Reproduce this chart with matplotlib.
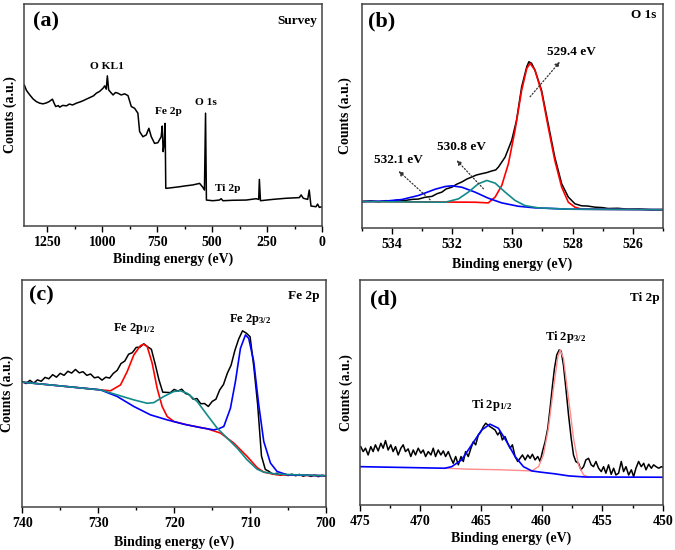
import numpy as np
import matplotlib
matplotlib.use('Agg')
import matplotlib.pyplot as plt
from matplotlib.ticker import MultipleLocator

plt.rcParams['font.family'] = 'Liberation Serif'
plt.rcParams['font.weight'] = 'bold'
plt.rcParams['mathtext.fontset'] = 'custom'
plt.rcParams['mathtext.rm'] = 'Liberation Serif:bold'
plt.rcParams['mathtext.it'] = 'Liberation Serif:bold'
plt.rcParams['mathtext.bf'] = 'Liberation Serif:bold'

# ---- (a) survey ----
survey_e = [1355, 1345, 1330, 1315, 1300, 1285, 1270, 1255, 1242, 1227, 1218, 1212, 1200, 1194, 1180,
            1163, 1150, 1135, 1118, 1100, 1085, 1073, 1055, 1040, 1027, 1012, 997, 989, 982, 977,
            971, 962, 951, 940, 929, 914, 898, 883, 868, 853, 838, 830, 815, 800, 788, 777,
            762, 747, 732, 727, 723, 718, 714, 711, 706, 680, 648, 620, 588, 557, 542, 535,
            530, 526, 497, 467, 459, 451, 406, 345, 300, 288, 285, 280, 224, 164, 103, 95,
            85, 65, 58, 50, 27, 20, 12, 0]
survey_c = [63.5, 61.0, 59.0, 57.2, 56.0, 55.3, 55.0, 55.4, 56.0, 57.1, 55.0, 53.8, 54.2, 53.5, 54.3,
            54.1, 54.9, 54.5, 55.3, 55.9, 56.5, 57.1, 57.9, 58.6, 59.8, 60.6, 62.0, 63.1, 61.6, 67.6,
            61.3, 60.2, 59.0, 60.1, 59.8, 59.0, 59.5, 58.7, 53.8, 53.0, 50.8, 42.5, 40.2, 41.0, 44.0, 40.2,
            37.2, 37.5, 40.2, 45.0, 33.5, 37.2, 46.2, 17.0, 17.0, 17.3, 17.7, 18.1, 18.5, 19.2, 17.4, 16.2,
            50.8, 11.7, 11.4, 11.7, 12.3, 11.4, 11.6, 11.7, 12.3, 12.0, 21.0, 11.4, 12.0, 12.5, 12.8, 14.0,
            12.5, 12.0, 16.2, 9.0, 8.7, 9.9, 8.4, 8.7]
survey_peaks = ['O KL1', 'Fe 2p', 'O 1s', 'Ti 2p']
survey_peak_pos = [(977, 72), (700, 51.4), (527, 55.4), (427, 17.1)]

# ---- (b) O 1s ----
o1s_e = [535.0, 534.7, 534.44, 534.2, 534.0, 533.8, 533.56, 533.3, 533.12, 532.9, 532.67, 532.5, 532.34,
         532.2, 532.01, 531.85, 531.68, 531.5, 531.35, 531.2, 531.02, 530.85, 530.69, 530.55, 530.46,
         530.24, 530.02, 529.86, 529.69, 529.52, 529.45, 529.36, 529.25, 529.03, 528.81, 528.59,
         528.36, 528.14, 527.92, 527.7, 527.5, 527.26, 527.0, 526.82, 526.5, 526.15, 525.8, 525.4, 525.0]
o1s_c = [11.9, 12.2, 11.8, 12.3, 12.1, 12.6, 12.4, 12.9, 13.0, 13.8, 14.2, 15.4, 16.1,
         17.5, 18.3, 19.6, 20.6, 22.0, 22.8, 23.7, 24.3, 24.8, 25.5, 26.0, 27.3,
         31.7, 39.2, 48.1, 63.0, 72.0, 74.2, 73.5, 70.5, 61.5, 46.6, 31.7,
         19.8, 13.9, 10.9, 10.0, 9.9, 9.4, 9.2, 8.8, 8.9, 8.5, 8.6, 8.2, 8.3]
o1s_red_e = [535.0, 531.24, 530.8, 530.57, 530.35, 530.13, 529.91, 529.69, 529.52, 529.41, 529.25,
             529.03, 528.81, 528.59, 528.36, 528.14, 527.92, 527.7, 525.0]
o1s_red_c = [11.9, 11.6, 11.3, 13.9, 19.1, 28.8, 43.7, 61.5, 71.2, 73.5, 70.5,
             60.8, 45.2, 30.3, 18.3, 11.6, 9.4, 8.5, 8.3]
o1s_teal_e = [535.0, 532.23, 531.79, 531.46, 531.13, 530.85, 530.57, 530.24, 529.91, 529.58, 529.14,
              528.14, 525.0]
o1s_teal_c = [11.9, 11.6, 13.1, 16.1, 19.8, 21.3, 20.1, 16.1, 12.4, 10.1, 9.1, 8.5, 8.3]
o1s_blue_e = [535.0, 534.22, 533.67, 533.12, 532.56, 532.23, 532.01, 531.68, 531.24, 530.8, 530.35,
              529.8, 529.25, 528.14, 525.0]
o1s_blue_c = [11.9, 12.1, 12.8, 14.6, 17.4, 18.6, 18.9, 18.3, 16.1, 13.4, 11.3, 9.8, 9.1, 8.5, 8.3]
o1s_labels = ['529.4 eV', '530.8 eV', '532.1 eV']

# ---- (c) Fe 2p ----
fe_e = np.arange(740, 699.75, -0.5)
fe_c = [55.3, 54.4, 55.8, 54.6, 56.0, 55.4, 57.1, 56.5, 58.3, 57.2,
        58.9, 58.0, 59.8, 59.0, 60.6, 59.1, 59.6, 58.0, 58.6, 56.9,
        57.3, 55.9, 57.2, 56.8, 58.9, 60.2, 63.2, 64.3, 67.3, 68.0,
        70.3, 70.4, 71.9, 70.6, 69.5, 63.0, 56.0, 50.6, 50.5, 50.4,
        51.8, 51.1, 51.9, 50.0, 49.5, 47.5, 47.8, 45.5, 45.6, 44.3,
        46.5, 47.5, 51.6, 54.0, 58.9, 62.5, 69.0, 74.0, 77.6, 76.6,
        75.0, 61.5, 45.0, 22.5, 16.6, 15.7, 14.4, 14.9, 14.0, 14.7,
        13.9, 14.5, 13.8, 14.4, 13.6, 14.2, 13.5, 14.1, 13.4, 14.0,
        13.6]
fe_red_e = [740, 729.69, 728.38, 727.06, 726.18, 725.31, 724.43, 723.99, 723.55, 722.89, 722.24,
            721.58, 720.92, 720.04, 718.29, 715.66, 713.9, 712.15, 710.39, 709.08, 708.2, 706.45, 700]
fe_red_c = [55.0, 51.6, 51.2, 53.8, 59.7, 67.0, 71.1, 71.7, 70.7, 63.3, 52.3,
            44.3, 39.9, 37.7, 36.2, 34.5, 32.6, 28.2, 22.3, 17.4, 15.4, 14.2, 13.8]
fe_blue_e = [740, 729.69, 727.5, 725.31, 723.11, 720.92, 718.73, 716.54, 714.78, 714.12, 713.46,
             712.59, 711.93, 711.27, 710.61, 710.18, 709.52, 708.86, 708.2, 707.32, 706.45, 705.13, 700]
fe_blue_c = [55.0, 51.6, 48.7, 44.3, 40.6, 38.4, 36.5, 35.0, 34.0, 34.5, 35.5,
             43.5, 55.3, 69.9, 75.8, 74.3, 64.1, 45.0, 28.9, 19.4, 15.7, 14.2, 13.8]
fe_teal_e = [740, 729.69, 727.5, 725.31, 723.55, 722.68, 721.36, 720.04, 719.17, 718.29, 716.97,
             715.66, 714.34, 713.03, 711.71, 710.39, 709.08, 708.2, 706.45, 700]
fe_teal_c = [55.0, 51.6, 49.4, 47.2, 45.7, 46.0, 48.7, 50.9, 51.2, 50.1, 46.5,
             40.6, 34.8, 30.4, 26.0, 20.8, 16.7, 15.4, 14.5, 13.8]

# ---- (d) Ti 2p ----
ti_e = [474.92, 474.72, 474.53, 474.31, 474.09, 473.90, 473.71, 473.48, 473.26, 473.07, 472.88,
        472.66, 472.44, 472.25, 472.05, 471.83, 471.61, 471.42, 471.23, 471.01, 470.79, 470.59,
        470.40, 470.18, 469.96, 469.77, 469.57, 469.35, 469.13, 468.94, 468.75, 468.53, 468.31,
        468.11, 467.92, 467.70, 467.48, 467.29, 467.09, 466.87, 466.65, 466.46, 466.27, 466.05,
        465.83, 465.63, 465.44, 465.22, 465.00, 464.81, 464.61, 464.45, 464.26, 464.06, 463.84,
        463.62, 463.43, 463.24, 463.02, 462.80, 462.60, 462.41, 462.19, 461.97, 461.78, 461.58,
        461.36, 461.14, 460.95, 460.76, 460.54, 460.32, 460.12, 459.93, 459.71, 459.49, 459.30,
        459.10, 458.94, 458.75, 458.55, 458.39, 458.20, 458.00, 457.78, 457.56, 457.37, 457.18,
        456.96, 456.76, 456.54, 456.35, 456.13, 455.91, 455.72, 455.52, 455.30, 455.08, 454.89,
        454.70, 454.48, 454.26, 454.06, 453.87, 453.65, 453.43, 453.24, 453.04, 452.82, 452.60,
        452.41, 452.22, 452.00, 451.78, 451.58, 451.39, 451.17, 450.95, 450.76, 450.56, 450.34,
        450.12, 450.0]
ti_c = [25.9, 23.7, 25.2, 22.2, 25.9, 23.7, 26.7, 24.0, 27.4, 25.2, 28.6,
        24.4, 26.7, 23.7, 25.9, 22.2, 25.2, 26.7, 23.7, 24.9, 21.5, 24.4,
        22.2, 25.2, 23.0, 24.4, 21.5, 23.7, 22.2, 25.2, 21.5, 24.4, 22.2,
        24.0, 21.5, 23.7, 20.7, 18.5, 21.5, 17.8, 21.5, 19.3, 23.7, 21.5,
        25.2, 28.1, 26.7, 31.1, 32.6, 34.8, 36.3, 35.6, 34.8, 34.1, 33.3,
        31.1, 32.6, 28.9, 30.4, 27.4, 25.2, 26.7, 21.5, 19.3, 20.7, 22.2,
        20.0, 22.2, 20.7, 22.5, 20.0, 21.5, 19.3, 23.7, 28.1, 34.1, 43.0,
        53.3, 60.7, 66.7, 68.9, 68.4, 62.2, 51.9, 40.0, 29.6, 22.2, 19.3,
        18.5, 15.6, 17.0, 20.0, 20.7, 17.8, 17.0, 19.3, 16.3, 14.8, 17.0,
        14.1, 17.8, 13.6, 16.3, 13.3, 14.1, 19.3, 14.8, 17.0, 13.3, 15.6,
        12.6, 16.3, 19.3, 17.0, 18.5, 15.6, 18.1, 16.3, 17.8, 17.0, 16.3,
        17.0, 16.7]
ti_blue_e = [475, 467.98, 467.42, 466.6, 465.77, 464.94, 464.26, 463.57, 462.88, 462.19, 461.5,
             460.81, 459.99, 458.88, 457.78, 456.4, 450]
ti_blue_c = [17.0, 16.3, 17.0, 20.0, 26.7, 33.3, 35.9, 34.1, 28.1, 21.5, 17.0,
             15.1, 14.5, 13.8, 12.9, 12.4, 12.3]
ti_pink_e = [467.98, 466.05, 463.29, 460.81, 460.26, 459.85, 459.44, 459.02, 458.66, 458.47, 458.2,
             457.78, 457.37, 456.96, 456.54, 456.13]
ti_pink_c = [16.3, 15.9, 15.6, 15.1, 17.0, 22.2, 34.1, 51.9, 65.9, 68.9, 65.2,
             47.4, 29.6, 17.8, 13.3, 12.4]

RED = '#ff0000'
BLUE = '#0000ff'
TEAL = '#138a8a'
PINK = '#ff8c8c'

fig = plt.figure(figsize=(6.75, 5.5), dpi=100)
ax_a = fig.add_axes([0.036, 0.589, 0.441, 0.404])
ax_b = fig.add_axes([0.536, 0.585, 0.446, 0.408])
ax_c = fig.add_axes([0.033, 0.078, 0.450, 0.413])
ax_d = fig.add_axes([0.533, 0.082, 0.449, 0.409])


def style(ax, xlim, major, minor, ylab_x, xlab_y):
    ax.set_xlim(*xlim)
    ax.set_ylim(0, 100)
    ax.set_yticks([])
    ax.xaxis.set_major_locator(MultipleLocator(major))
    ax.xaxis.set_minor_locator(MultipleLocator(minor))
    ax.tick_params(axis='x', which='major', direction='out', length=4, width=1, labelsize=10, pad=3)
    ax.tick_params(axis='x', which='minor', direction='out', length=2.5, width=1)
    for lbl in ax.get_xticklabels():
        lbl.set_fontweight('bold')
    for s in ax.spines.values():
        s.set_color('#444444')
        s.set_linewidth(1.1)
    ax.set_xlabel('Binding energy (eV)', fontsize=10, fontweight='bold')
    ax.set_ylabel('Counts (a.u.)', fontsize=10, fontweight='bold')
    ax.yaxis.set_label_coords(ylab_x, 0.5)
    ax.xaxis.set_label_coords(0.5, xlab_y)


# (a)
ax_a.plot(survey_e, survey_c, color='black', lw=1.1)
style(ax_a, (1355, 0), 250, 125, -0.023, -0.117)
ax_a.text(0.03, 0.92, '(a)', transform=ax_a.transAxes, fontsize=16, fontweight='bold', va='center')
ax_a.text(0.985, 0.923, 'Survey', transform=ax_a.transAxes, fontsize=9.5, fontweight='bold',
          ha='right', va='center')
for name, (x, y) in zip(survey_peaks, survey_peak_pos):
    ax_a.text(x, y, name, fontsize=8.2, fontweight='bold', ha='center', va='center')

# (b)
ax_b.plot(o1s_e, o1s_c, color='black', lw=1.1)
ax_b.plot(o1s_red_e, o1s_red_c, color=RED, lw=1.2)
ax_b.plot(o1s_blue_e, o1s_blue_c, color=BLUE, lw=1.2)
ax_b.plot(o1s_teal_e, o1s_teal_c, color=TEAL, lw=1.2)
style(ax_b, (535, 525), 2, 1, -0.033, -0.129)
ax_b.text(0.02, 0.92, '(b)', transform=ax_b.transAxes, fontsize=16, fontweight='bold', va='center')
ax_b.text(0.98, 0.95, 'O 1s', transform=ax_b.transAxes, fontsize=9.5, fontweight='bold',
          ha='right', va='center')
arrows_b = [((529.41, 58.6), (528.42, 74.2), (528.03, 78.7)),
            ((530.96, 17.6), (531.85, 30.3), (531.7, 36.2)),
            ((532.73, 12.7), (533.78, 25.5), (533.78, 30.5))]
for lab, (tail, head, txt) in zip(o1s_labels, arrows_b):
    ax_b.annotate('', xy=head, xytext=tail,
                  arrowprops=dict(arrowstyle='-|>', linestyle=':', lw=0.9, color='#333333',
                                  mutation_scale=7, shrinkA=0, shrinkB=0))
    ax_b.text(txt[0], txt[1], lab, fontsize=9.5, fontweight='bold', ha='center', va='center')

# (c)
ax_c.plot(fe_e, fe_c, color='black', lw=1.1)
ax_c.plot(fe_red_e, fe_red_c, color=RED, lw=1.2)
ax_c.plot(fe_blue_e, fe_blue_c, color=BLUE, lw=1.2)
ax_c.plot(fe_teal_e, fe_teal_c, color=TEAL, lw=1.2)
style(ax_c, (740, 700), 10, 5, -0.026, -0.123)
ax_c.text(0.023, 0.932, '(c)', transform=ax_c.transAxes, fontsize=16, fontweight='bold', va='center')
ax_c.text(0.98, 0.931, 'Fe 2p', transform=ax_c.transAxes, fontsize=9.5, fontweight='bold',
          ha='right', va='center')
ax_c.text(725.3, 78.7, r'Fe 2p$_{1/2}$', fontsize=9, fontweight='bold', ha='center', va='center')
ax_c.text(710.0, 82.4, r'Fe 2p$_{3/2}$', fontsize=9, fontweight='bold', ha='center', va='center')

# (d)
ax_d.plot(ti_e, ti_c, color='black', lw=1.1)
ax_d.plot(ti_pink_e, ti_pink_c, color=PINK, lw=1.0)
ax_d.plot(ti_blue_e, ti_blue_c, color=BLUE, lw=1.2)
style(ax_d, (475, 450), 5, 2.5, -0.023, -0.12)
ax_d.text(0.033, 0.911, '(d)', transform=ax_d.transAxes, fontsize=16, fontweight='bold', va='center')
ax_d.text(0.99, 0.921, 'Ti 2p', transform=ax_d.transAxes, fontsize=9.5, fontweight='bold',
          ha='right', va='center')
ax_d.text(458.06, 74.8, r'Ti 2p$_{3/2}$', fontsize=9, fontweight='bold', ha='center', va='center')
ax_d.text(464.12, 44.4, r'Ti 2p$_{1/2}$', fontsize=9, fontweight='bold', ha='center', va='center')

fig.savefig('out.png', dpi=100)
